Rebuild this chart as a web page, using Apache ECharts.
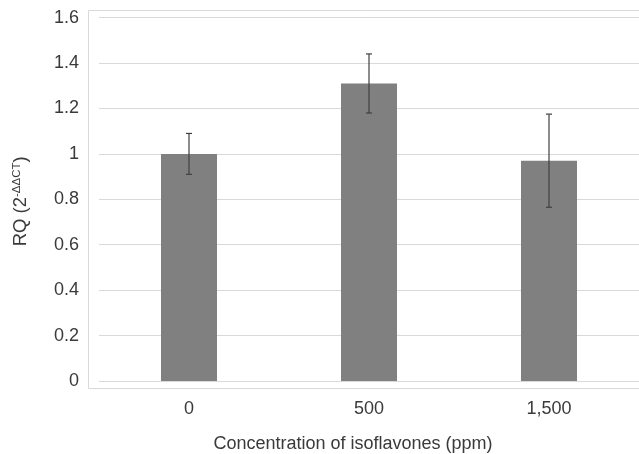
<!DOCTYPE html>
<html>
<head>
<meta charset="utf-8">
<script src="https://cdn.jsdelivr.net/npm/echarts@6/dist/echarts.min.js"></script>
<style>
  html, body { margin: 0; padding: 0; background: #fff; }
  #chart { width: 639px; height: 454px; }
</style>
</head>
<body>
<div id="chart"></div>
<script>
const categories = ['0', '500', '1,500']
const means = [1.00, 1.31, 0.97]
const errors = [0.09, 0.13, 0.205]

const textColor = '#3a3a3a'
const font = 'Liberation Sans, Arial, sans-serif'

const chart = echarts.init(document.getElementById('chart'))

chart.setOption({
  animation: false,
  textStyle: { fontFamily: font },
  graphic: [
    {
      type: 'rect',
      shape: { x: 88.5, y: 10.5, width: 560, height: 378 },
      style: { fill: 'none', stroke: '#d9d9d9', lineWidth: 1 },
      silent: true,
    },
  ],
  grid: {
    left: 99,
    right: 0,
    top: 17.6,
    bottom: 73,
    outerBoundsMode: 'none',
  },
  xAxis: {
    type: 'category',
    data: categories,
    axisLine: { show: false },
    axisTick: { show: false },
    axisLabel: { color: textColor, fontSize: 18, margin: 19 },
    name: 'Concentration of isoflavones (ppm)',
    nameLocation: 'middle',
    nameGap: 54,
    nameTextStyle: { color: textColor, fontSize: 18, padding: [0, 32, 0, 0] },
  },
  yAxis: {
    type: 'value',
    min: 0,
    max: 1.6,
    interval: 0.2,
    axisLine: { show: false },
    axisTick: { show: false },
    axisLabel: { color: textColor, fontSize: 18, margin: 20 },
    splitLine: { lineStyle: { color: '#d9d9d9', width: 1 } },
    name: '{a|RQ (2}{s|-ΔΔCT}{a|)}',
    nameLocation: 'middle',
    nameGap: 68,
    nameTextStyle: {
      padding: [0, 4, 0, 0],
      rich: {
        a: { color: textColor, fontSize: 18.5, fontFamily: font },
        s: { color: textColor, fontSize: 11.5, fontFamily: font, verticalAlign: 'top', padding: [0, 0, 8, 0] },
      },
    },
  },
  series: [
    {
      type: 'bar',
      data: means,
      barWidth: 56,
      itemStyle: { color: '#808080' },
      z: 2,
    },
    {
      type: 'custom',
      z: 3,
      data: means.map((m, i) => [i, m - errors[i], m + errors[i]]),
      renderItem(params, api) {
        const lo = api.coord([api.value(0), api.value(1)])
        const hi = api.coord([api.value(0), api.value(2)])
        const cap = 3
        const style = { stroke: '#404040', lineWidth: 1.2 }
        return {
          type: 'group',
          children: [
            { type: 'line', shape: { x1: hi[0], y1: hi[1], x2: lo[0], y2: lo[1] }, style },
            { type: 'line', shape: { x1: hi[0] - cap, y1: hi[1], x2: hi[0] + cap, y2: hi[1] }, style },
            { type: 'line', shape: { x1: lo[0] - cap, y1: lo[1], x2: lo[0] + cap, y2: lo[1] }, style },
          ],
        }
      },
    },
  ],
})
</script>
</body>
</html>
